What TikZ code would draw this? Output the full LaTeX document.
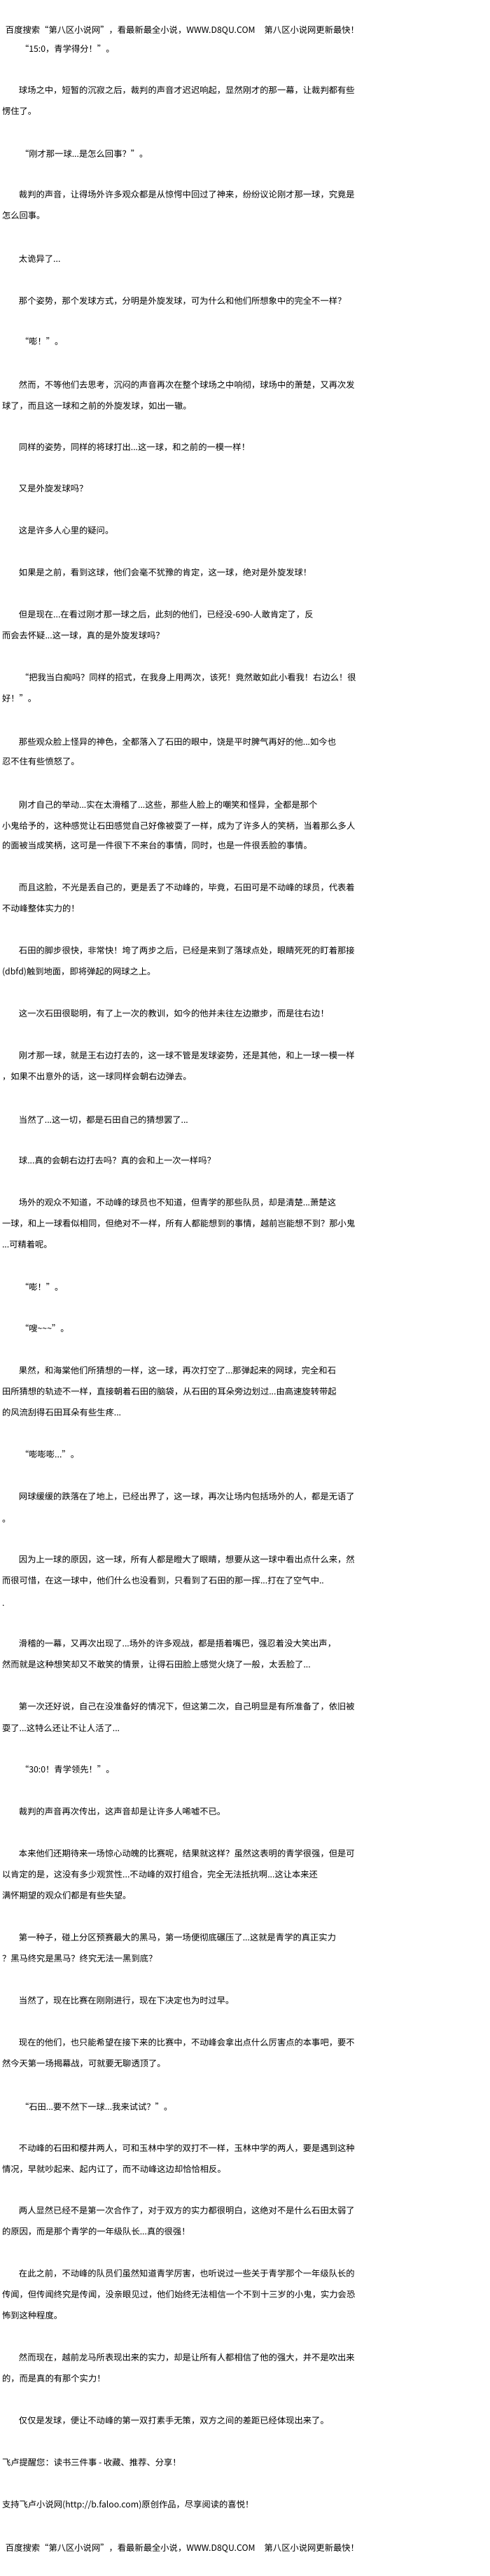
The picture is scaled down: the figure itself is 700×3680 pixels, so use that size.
\documentclass[tikz,border=0pt]{standalone}
\usepackage{fontspec}
\newfontfamily\cjk{Noto Sans CJK SC}
\tikzset{ln/.style={anchor=base west,inner sep=0pt,outer sep=0pt,yshift=-4.7pt,font=\cjk\fontsize{12.3}{14}\selectfont}}
\begin{document}
\begin{tikzpicture}[x=1pt,y=-1pt]
\useasboundingbox (0,0) rectangle (700,3680);
\fill[white] (0,0) rectangle (700,3680);
% header
\node[ln] (l1)  at (8,43)   {百度搜索“第八区小说网”，看最新最全小说，WWW.D8QU.COM\hspace{13pt}第八区小说网更新最快！};
\node[ln] (l2)  at (29,70)  {“15:0，青学得分！”。};
\node[ln] (l3)  at (27,129) {球场之中，短暂的沉寂之后，裁判的声音才迟迟响起，显然刚才的那一幕，让裁判都有些};
\node[ln] (l4)  at (3,159)  {愣住了。};
\node[ln] (l5)  at (29,220) {“刚才那一球...是怎么回事？”。};
\node[ln] (l6)  at (27,278) {裁判的声音，让得场外许多观众都是从惊愕中回过了神来，纷纷议论刚才那一球，究竟是};
\node[ln] (l7)  at (3,308)  {怎么回事。};
\node[ln] (l8)  at (27,370) {太诡异了...};
\node[ln] (l9)  at (27,430) {那个姿势，那个发球方式，分明是外旋发球，可为什么和他们所想象中的完全不一样？};
\node[ln] (l10) at (29,488) {“嘭！”。};
\node[ln] (l11) at (27,550) {然而，不等他们去思考，沉闷的声音再次在整个球场之中响彻，球场中的萧楚，又再次发};
\node[ln] (l12) at (3,580)  {球了，而且这一球和之前的外旋发球，如出一辙。};
\node[ln] (l13) at (27,639) {同样的姿势，同样的将球打出...这一球，和之前的一模一样！};
\node[ln] (l14) at (27,698) {又是外旋发球吗？};
\node[ln] (l15) at (27,758) {这是许多人心里的疑问。};
\node[ln] (l16) at (27,818) {如果是之前，看到这球，他们会毫不犹豫的肯定，这一球，绝对是外旋发球！};
\node[ln] (l17) at (27,878) {但是现在...在看过刚才那一球之后，此刻的他们，已经没-690-人敢肯定了，反};
\node[ln] (l18) at (3,908)  {而会去怀疑...这一球，真的是外旋发球吗？};
\node[ln] (l19) at (29,968) {“把我当白痴吗？同样的招式，在我身上用两次，该死！竟然敢如此小看我！右边么！很};
\node[ln] (l20) at (3,998)  {好！”。};
\node[ln] (l21) at (27,1060) {那些观众脸上怪异的神色，全都落入了石田的眼中，饶是平时脾气再好的他...如今也};
\node[ln] (l22) at (3,1088)  {忍不住有些愤怒了。};
\node[ln] (l23) at (27,1150) {刚才自己的举动...实在太滑稽了...这些，那些人脸上的嘲笑和怪异，全都是那个};
\node[ln] (l24) at (3,1180)  {小鬼给予的，这种感觉让石田感觉自己好像被耍了一样，成为了许多人的笑柄，当着那么多人};
\node[ln] (l25) at (3,1208)  {的面被当成笑柄，这可是一件很下不来台的事情，同时，也是一件很丢脸的事情。};
\node[ln] (l26) at (27,1268) {而且这脸，不光是丢自己的，更是丢了不动峰的，毕竟，石田可是不动峰的球员，代表着};
\node[ln] (l27) at (3,1298)  {不动峰整体实力的！};
\node[ln] (l28) at (27,1358) {石田的脚步很快，非常快！垮了两步之后，已经是来到了落球点处，眼睛死死的盯着那接};
\node[ln] (l29) at (3,1388)  {(dbfd)触到地面，即将弹起的网球之上。};
\node[ln] (l30) at (27,1448) {这一次石田很聪明，有了上一次的教训，如今的他并未往左边撤步，而是往右边！};
\node[ln] (l31) at (27,1508) {刚才那一球，就是王右边打去的，这一球不管是发球姿势，还是其他，和上一球一模一样};
\node[ln] (l32) at (3,1538)  {，如果不出意外的话，这一球同样会朝右边弹去。};
\node[ln] (l33) at (27,1600) {当然了...这一切，都是石田自己的猜想罢了...};
\node[ln] (l34) at (27,1658) {球...真的会朝右边打去吗？真的会和上一次一样吗？};
\node[ln] (l35) at (27,1718) {场外的观众不知道，不动峰的球员也不知道，但青学的那些队员，却是清楚...萧楚这};
\node[ln] (l36) at (3,1748)  {一球，和上一球看似相同，但绝对不一样，所有人都能想到的事情，越前岂能想不到？那小鬼};
\node[ln] (l37) at (3,1778)  {...可精着呢。};
\node[ln] (l38) at (29,1839) {“嘭！”。};
\node[ln] (l39) at (29,1898) {“嗖\textasciitilde\textasciitilde\textasciitilde”。};
\node[ln] (l40) at (27,1958) {果然，和海棠他们所猜想的一样，这一球，再次打空了...那弹起来的网球，完全和石};
\node[ln] (l41) at (3,1988)  {田所猜想的轨迹不一样，直接朝着石田的脑袋，从石田的耳朵旁边划过...由高速旋转带起};
\node[ln] (l42) at (3,2018)  {的风流刮得石田耳朵有些生疼...};
\node[ln] (l43) at (29,2078) {“嘭嘭嘭...”。};
\node[ln] (l44) at (27,2138) {网球缓缓的跌落在了地上，已经出界了，这一球，再次让场内包括场外的人，都是无语了};
\node[ln] (l45) at (3,2170)  {。};
\node[ln] (l46) at (27,2228) {因为上一球的原因，这一球，所有人都是瞪大了眼睛，想要从这一球中看出点什么来，然};
\node[ln] (l47) at (3,2258)  {而很可惜，在这一球中，他们什么也没看到，只看到了石田的那一挥...打在了空气中..};
\node[ln] (l48) at (3,2290)  {.};
\node[ln] (l49) at (27,2348) {滑稽的一幕，又再次出现了...场外的许多观战，都是捂着嘴巴，强忍着没大笑出声，};
\node[ln] (l50) at (3,2378)  {然而就是这种想笑却又不敢笑的情景，让得石田脸上感觉火烧了一般，太丢脸了...};
\node[ln] (l51) at (27,2438) {第一次还好说，自己在没准备好的情况下，但这第二次，自己明显是有所准备了，依旧被};
\node[ln] (l52) at (3,2469)  {耍了...这特么还让不让人活了...};
\node[ln] (l53) at (29,2528) {“30:0！青学领先！”。};
\node[ln] (l54) at (27,2588) {裁判的声音再次传出，这声音却是让许多人唏嘘不已。};
\node[ln] (l55) at (27,2648) {本来他们还期待来一场惊心动魄的比赛呢，结果就这样？虽然这表明的青学很强，但是可};
\node[ln] (l56) at (3,2678)  {以肯定的是，这没有多少观赏性...不动峰的双打组合，完全无法抵抗啊...这让本来还};
\node[ln] (l57) at (3,2708)  {满怀期望的观众们都是有些失望。};
\node[ln] (l58) at (27,2768) {第一种子，碰上分区预赛最大的黑马，第一场便彻底碾压了...这就是青学的真正实力};
\node[ln] (l59) at (3,2798)  {？黑马终究是黑马？终究无法一黑到底？};
\node[ln] (l60) at (27,2858) {当然了，现在比赛在刚刚进行，现在下决定也为时过早。};
\node[ln] (l61) at (27,2918) {现在的他们，也只能希望在接下来的比赛中，不动峰会拿出点什么厉害点的本事吧，要不};
\node[ln] (l62) at (3,2948)  {然今天第一场揭幕战，可就要无聊透顶了。};
\node[ln] (l63) at (29,3010) {“石田...要不然下一球...我来试试？”。};
\node[ln] (l64) at (27,3069) {不动峰的石田和樱井两人，可和玉林中学的双打不一样，玉林中学的两人，要是遇到这种};
\node[ln] (l65) at (3,3099)  {情况，早就吵起来、起内讧了，而不动峰这边却恰恰相反。};
\node[ln] (l66) at (27,3158) {两人显然已经不是第一次合作了，对于双方的实力都很明白，这绝对不是什么石田太弱了};
\node[ln] (l67) at (3,3188)  {的原因，而是那个青学的一年级队长...真的很强！};
\node[ln] (l68) at (27,3248) {在此之前，不动峰的队员们虽然知道青学厉害，也听说过一些关于青学那个一年级队长的};
\node[ln] (l69) at (3,3278)  {传闻，但传闻终究是传闻，没亲眼见过，他们始终无法相信一个不到十三岁的小鬼，实力会恐};
\node[ln] (l70) at (3,3308)  {怖到这种程度。};
\node[ln] (l71) at (27,3368) {然而现在，越前龙马所表现出来的实力，却是让所有人都相信了他的强大，并不是吹出来};
\node[ln] (l72) at (3,3398)  {的，而是真的有那个实力！};
\node[ln] (l73) at (27,3458) {仅仅是发球，便让不动峰的第一双打素手无策，双方之间的差距已经体现出来了。};
% footer
\node[ln] (l74) at (3,3518)  {飞卢提醒您：读书三件事 - 收藏、推荐、分享！};
\node[ln] (l75) at (3,3578)  {支持飞卢小说网(http://b.faloo.com)原创作品，尽享阅读的喜悦！};
\node[ln] (l76) at (8,3640)  {百度搜索“第八区小说网”，看最新最全小说，WWW.D8QU.COM\hspace{13pt}第八区小说网更新最快！};
\end{tikzpicture}
\end{document}
